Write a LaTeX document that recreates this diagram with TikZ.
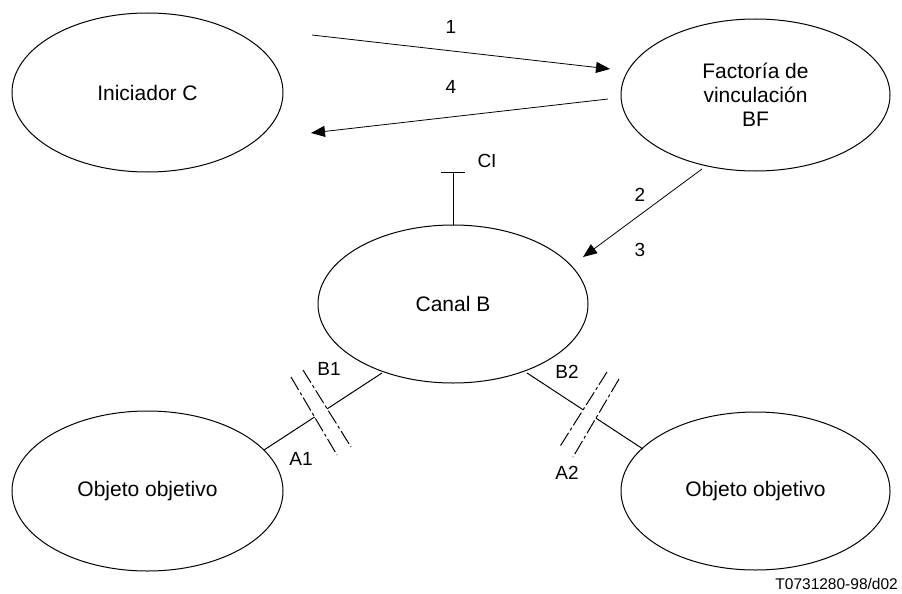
\documentclass[tikz,border=0pt]{standalone}
\usepackage{fontspec}
\setmainfont{Liberation Sans}
\usetikzlibrary{shapes.geometric,arrows.meta}
\begin{document}
\begin{tikzpicture}[x=1pt,y=-1pt,
  ell/.style={draw,ellipse,line width=1pt,inner sep=0pt,align=center,font=\fontsize{21}{24}\selectfont},
  lbl/.style={font=\fontsize{19}{22}\selectfont,inner sep=0pt},
  conn/.style={line width=1pt},
  arr/.style={line width=0.8pt,-{Triangle[length=14pt,width=11pt]}},
  brk/.style={line width=1pt,dash pattern=on 15pt off 3pt on 3pt off 3pt}]
\useasboundingbox (0,0) rectangle (902,594);
% ellipses
\node[ell,minimum width=271pt,minimum height=159pt] (ini) at (147.5,92.5) {Iniciador C};
\node[ell,minimum width=269pt,minimum height=152pt] (bf) at (755.5,95) {Factoría de\\vinculación\\BF};
\node[ell,minimum width=270pt,minimum height=158pt] (canal) at (453,304) {Canal B};
\node[ell,minimum width=271pt,minimum height=160pt] (objl) at (147.5,491) {Objeto objetivo};
\node[ell,minimum width=269pt,minimum height=158pt] (objr) at (755.5,491) {Objeto objetivo};
% arrow 1 and 4
\coordinate (a1s) at (312,35);
\coordinate (a1e) at (610,69);
\draw[arr] (a1s) -- (a1e);
\coordinate (a4s) at (608,99);
\coordinate (a4e) at (311,133);
\draw[arr] (a4s) -- (a4e);
% arrow 2/3
\coordinate (a2s) at (702,169);
\coordinate (a2e) at (583,257);
\draw[arr] (a2s) -- (a2e);
% CI stub
\coordinate (cit) at (453,172);
\coordinate (cil) at (441,172);
\coordinate (cir) at (465,172);
\draw[conn] (canal.north) -- (cit);
\draw[conn] (cil) -- (cir);
% left connection
\coordinate (L0) at (382,373);
\coordinate (L1) at (327.2,408.8);
\coordinate (L2) at (314.6,417);
\coordinate (L3) at (264,450);
\draw[conn] (L0) -- (L1);
\draw[conn] (L2) -- (L3);
\coordinate (m1a) at (291,377);
\coordinate (m1b) at (337,455);
\coordinate (m2a) at (303,370);
\coordinate (m2b) at (351,447);
\draw[brk] (m1a) -- (m1b);
\draw[brk] (m2a) -- (m2b);
% right connection
\coordinate (R0) at (527,373);
\coordinate (R1) at (583,409.7);
\coordinate (R2) at (596,418.2);
\coordinate (R3) at (643,449);
\draw[conn] (R0) -- (R1);
\draw[conn] (R2) -- (R3);
\coordinate (n1a) at (607,372);
\coordinate (n1b) at (559,448);
\coordinate (n2a) at (619,379);
\coordinate (n2b) at (573,457);
\draw[brk] (n1a) -- (n1b);
\draw[brk] (n2a) -- (n2b);
% labels
\node[lbl] (l1) at (451,27) {1};
\node[lbl] (l4) at (451,87) {4};
\node[lbl] (l2) at (640,195) {2};
\node[lbl] (l3) at (640,250) {3};
\node[lbl] (lci) at (487,161) {CI};
\node[lbl] (lb1) at (329,369) {B1};
\node[lbl] (la1) at (301,459) {A1};
\node[lbl] (lb2) at (567,372) {B2};
\node[lbl] (la2) at (567,473) {A2};
\node[inner sep=0pt,anchor=east,font=\fontsize{15.5}{18}\selectfont] (cap) at (898,584) {T0731280-98/d02};
\end{tikzpicture}
\end{document}
